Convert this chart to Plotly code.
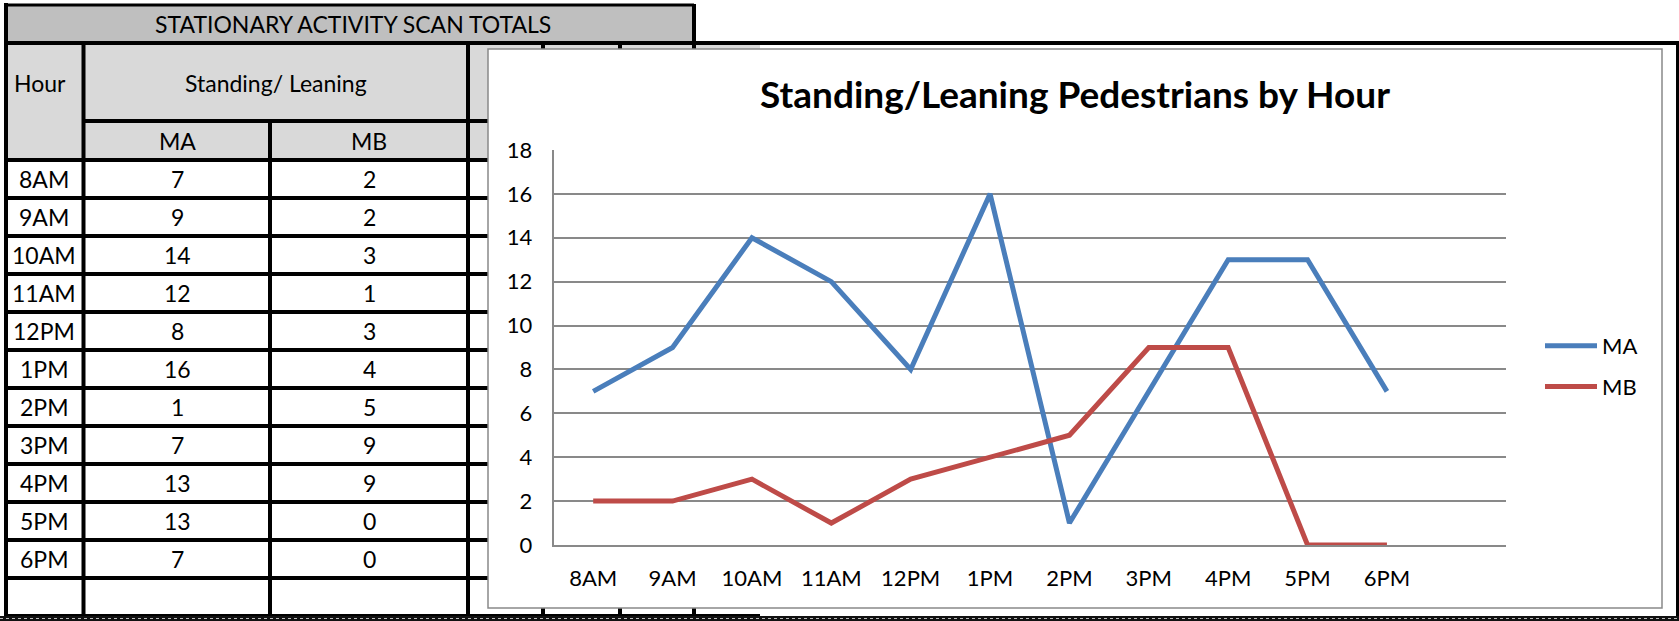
import plotly.graph_objects as go

# Hourly scan totals
hours = ["8AM", "9AM", "10AM", "11AM", "12PM", "1PM", "2PM", "3PM", "4PM", "5PM", "6PM"]
ma_counts = [7, 9, 14, 12, 8, 16, 1, 7, 13, 13, 7]
mb_counts = [2, 2, 3, 1, 3, 4, 5, 9, 9, 0, 0]

sheet_title = "STATIONARY ACTIVITY SCAN TOTALS"
group_header = "Standing/ Leaning"
hour_header = "Hour"
series_names = ["MA", "MB"]
chart_title = "Standing/Leaning Pedestrians by Hour"

W, H = 1679, 621
FONT = "Lato, Calibri, Carlito, sans-serif"
BLUE = "#4a7ebb"
RED = "#be4b48"
GRID = "#898989"
TABLE_SIZE = 23


def fx(x):
    return x / W


def fy(y):
    return 1 - y / H


shapes = []


def rect(x0, y0, x1, y1, fill, line_color=None, line_width=0):
    shapes.append(dict(
        type="rect", xref="paper", yref="paper", layer="below",
        x0=fx(x0), x1=fx(x1), y0=fy(y1), y1=fy(y0),
        fillcolor=fill,
        line=dict(color=line_color or fill, width=line_width),
    ))


def seg(x0, y0, x1, y1, width=4, color="black", dash="solid"):
    shapes.append(dict(
        type="line", xref="paper", yref="paper", layer="below",
        x0=fx(x0), x1=fx(x1), y0=fy(y0), y1=fy(y1),
        line=dict(color=color, width=width, dash=dash),
    ))


annotations = []


def label(text, x, y, size=TABLE_SIZE, anchor="center"):
    annotations.append(dict(
        text=text, x=fx(x), y=fy(y), xref="paper", yref="paper",
        xanchor=anchor, yanchor="middle", showarrow=False,
        font=dict(family=FONT, size=size, color="black"),
    ))


# ---- spreadsheet grid behind the chart ----
col_x = [6, 83.5, 270, 468, 543, 620, 694]
row_top = 160
row_h = 38
n_rows = len(hours) + 1  # one trailing empty row
row_lines = [row_top + i * row_h for i in range(n_rows + 1)]
bottom = row_lines[-1]

# fills
rect(6, 5, 694, 43, "#bfbfbf")
rect(6, 43, 760, 160, "#d9d9d9")

# title box
seg(6, 5, 694, 5, width=3)
seg(694, 4, 694, 43, width=4)
# long rule under the title, running to the right edge
seg(4, 43, W, 43, width=4)
# right border
seg(W - 1.5, 41, W - 1.5, H, width=3)

# header split and row rules
seg(83.5, 121, 760, 121, width=4)
for y in row_lines:
    seg(4, y, 760, y, width=4)

# column rules
seg(6, 3, 6, H, width=4)
seg(83.5, 43, 83.5, bottom, width=4)
seg(270, 121, 270, bottom, width=4)
for x in col_x[3:]:
    seg(x, 43, x, bottom, width=4)

# bottom band
rect(0, bottom, W, H, "#111111")
seg(0, bottom + 2.5, W, bottom + 2.5, width=1, color="#bbbbbb", dash="dot")

# table text
label(sheet_title, 353, 24)
label(hour_header, 40, 83)
label(group_header, 276, 83)
label(series_names[0], 177, 140.5)
label(series_names[1], 369, 140.5)
for i, h in enumerate(hours):
    yc = row_lines[i] + row_h / 2
    label(h, 44, yc)
    label(str(ma_counts[i]), 177, yc)
    label(str(mb_counts[i]), 369, yc)

# ---- chart area ----
rect(488, 49, 1662, 608, "white", line_color=GRID, line_width=1.5)

fig = go.Figure()
fig.add_trace(go.Scatter(
    x=hours, y=ma_counts, name=series_names[0], mode="lines",
    line=dict(color=BLUE, width=5), legendgroup="a",
))
fig.add_trace(go.Scatter(
    x=hours, y=mb_counts, name=series_names[1], mode="lines",
    line=dict(color=RED, width=5), legendgroup="b",
))

fig.update_layout(
    width=W, height=H,
    margin=dict(l=0, r=0, t=0, b=0, pad=0, autoexpand=False),
    paper_bgcolor="white", plot_bgcolor="white",
    shapes=shapes, annotations=annotations,
    title=dict(
        text="<b>" + chart_title + "</b>",
        x=fx(1075), y=fy(95), xanchor="center", yanchor="middle",
        xref="paper", yref="paper",
        font=dict(family=FONT, size=37, color="black"),
    ),
    showlegend=True,
    legend=dict(
        x=fx(1540), y=fy(325), xanchor="left", yanchor="top",
        font=dict(family=FONT, size=22, color="black"),
        bgcolor="rgba(0,0,0,0)", borderwidth=0,
        traceorder="grouped", tracegroupgap=9, itemwidth=52,
    ),
    xaxis=dict(
        domain=[fx(553.5), fx(1506)],
        type="category", categoryorder="array", categoryarray=hours,
        range=[-0.5, 11.5],
        showgrid=False, zeroline=False,
        showline=True, linecolor=GRID, linewidth=1.5,
        ticks="outside", ticklen=13, tickcolor="rgba(0,0,0,0)",
        tickfont=dict(family=FONT, size=22, color="black"),
    ),
    yaxis=dict(
        domain=[fy(545), fy(150)],
        range=[0, 18], dtick=2, tick0=0,
        showgrid=True, gridcolor=GRID, gridwidth=1.5,
        zeroline=False,
        showline=True, linecolor=GRID, linewidth=1.5,
        ticks="outside", ticklen=15, tickcolor="rgba(0,0,0,0)",
        tickfont=dict(family=FONT, size=22, color="black"),
    ),
)

fig.write_html("out.html")
